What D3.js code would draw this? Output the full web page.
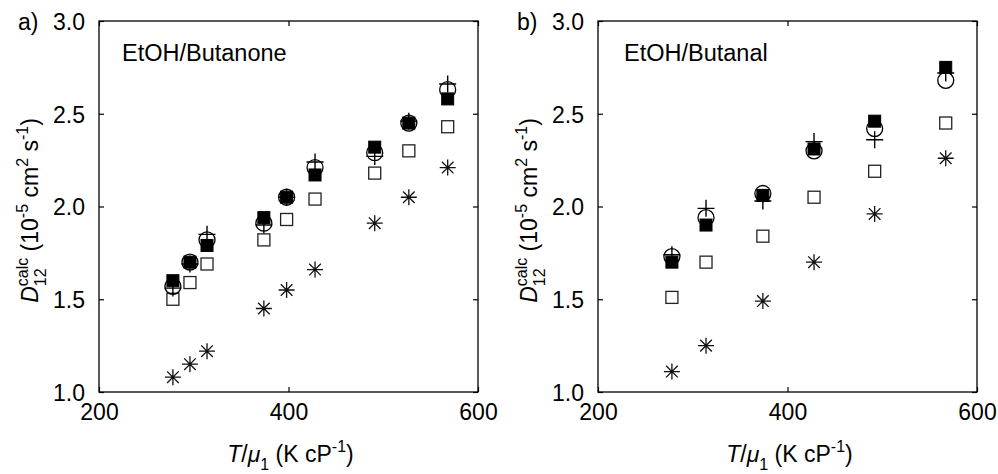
<!DOCTYPE html>
<html>
<head>
<meta charset="utf-8">
<script src="https://cdn.jsdelivr.net/npm/d3@7/dist/d3.min.js"></script>
<style>
  html, body { margin: 0; padding: 0; background: #fff; }
  svg { display: block; }
  text { font-family: "Liberation Sans", Arial, Helvetica, sans-serif; fill: #000; }
</style>
</head>
<body>
<svg id="chart" width="998" height="474"></svg>
<script>
// ---------- data ----------
const xTicks = [200, 400, 600];
const yTicks = [1.0, 1.5, 2.0, 2.5, 3.0];

// Panel a) EtOH/Butanone
const xA      = [278, 296, 314, 374, 398, 428, 491, 527, 568];
const circA   = [1.57, 1.70, 1.82, 1.91, 2.05, 2.21, 2.29, 2.45, 2.63];
const filledA = [1.60, 1.70, 1.79, 1.94, 2.05, 2.17, 2.32, 2.45, 2.58];
const plusA   = [1.56, 1.69, 1.85, 1.90, 2.05, 2.24, 2.27, 2.46, 2.66];
const openA   = [1.50, 1.59, 1.69, 1.82, 1.93, 2.04, 2.18, 2.30, 2.43];
const starA   = [1.08, 1.15, 1.22, 1.45, 1.55, 1.66, 1.91, 2.05, 2.21];

// Panel b) EtOH/Butanal
const xB      = [278, 314, 374, 428, 492, 567];
const circB   = [1.73, 1.94, 2.07, 2.30, 2.42, 2.68];
const filledB = [1.70, 1.90, 2.06, 2.31, 2.46, 2.75];
const plusB   = [1.74, 1.99, 2.03, 2.35, 2.36, 2.72];
const openB   = [1.51, 1.70, 1.84, 2.05, 2.19, 2.45];
const starB   = [1.11, 1.25, 1.49, 1.70, 1.96, 2.26];

const panels = [
  { tag: "a)", title: "EtOH/Butanone", left: 99,  x: xA, circ: circA, filled: filledA, plus: plusA, open: openA, star: starA, titleDx: 23 },
  { tag: "b)", title: "EtOH/Butanal",  left: 598, x: xB, circ: circB, filled: filledB, plus: plusB, open: openB, star: starB, titleDx: 26 }
];

// ---------- layout ----------
const svg = d3.select("#chart");
const plotTop = 21, plotBottom = 392, plotW = 379;
const FS = 23, FSs = 16;

panels.forEach(p => {
  const g = svg.append("g");
  const xs = d3.scaleLinear().domain([200, 600]).range([p.left, p.left + plotW]);
  const ys = d3.scaleLinear().domain([1, 3]).range([plotBottom, plotTop]);

  // axes with inward ticks
  const axB = g.append("g").attr("transform", `translate(0,${plotBottom})`)
    .call(d3.axisBottom(xs).tickValues(xTicks).tickSizeInner(-5).tickSizeOuter(0).tickPadding(12).tickFormat(d3.format("d")));
  const axT = g.append("g").attr("transform", `translate(0,${plotTop})`)
    .call(d3.axisTop(xs).tickValues(xTicks).tickSizeInner(-5).tickSizeOuter(0).tickFormat(""));
  const axL = g.append("g").attr("transform", `translate(${p.left},0)`)
    .call(d3.axisLeft(ys).tickValues(yTicks).tickSizeInner(-5).tickSizeOuter(0).tickPadding(14).tickFormat(d3.format(".1f")));
  const axR = g.append("g").attr("transform", `translate(${p.left + plotW},0)`)
    .call(d3.axisRight(ys).tickValues(yTicks).tickSizeInner(-5).tickSizeOuter(0).tickFormat(""));
  [axB, axT, axL, axR].forEach(a => {
    a.select(".domain").remove();
    a.selectAll("line").attr("stroke", "#000").attr("stroke-width", 1.2);
    a.selectAll("text").style("font-size", FS + "px").style("font-family", "Liberation Sans, Arial, sans-serif").attr("fill", "#000");
  });
  axB.selectAll("text").attr("dy", "0.71em");
  axL.selectAll("text").attr("dy", "0.36em");

  // frame
  g.append("rect").attr("x", p.left).attr("y", plotTop).attr("width", plotW).attr("height", plotBottom - plotTop)
    .attr("fill", "none").attr("stroke", "#000").attr("stroke-width", 1.3);

  // tag and title
  g.append("text").attr("x", p.left - 81).attr("y", 30).style("font-size", FS + "px").text(p.tag);
  g.append("text").attr("x", p.left + p.titleDx).attr("y", 61).style("font-size", "23.5px").text(p.title);

  // markers
  const idx = d3.range(p.x.length);
  const sq = 12, half = sq / 2;
  // open squares
  g.append("g").selectAll("rect").data(idx).join("rect")
    .attr("x", i => xs(p.x[i]) - half).attr("y", i => ys(p.open[i]) - half)
    .attr("width", sq).attr("height", sq)
    .attr("fill", "none").attr("stroke", "#222").attr("stroke-width", 1.3);
  // stars
  const sr = 8, sd = 5.8;
  g.append("g").selectAll("path").data(idx).join("path")
    .attr("transform", i => `translate(${xs(p.x[i])},${ys(p.star[i])})`)
    .attr("d", `M${-sr},0H${sr}M0,${-sr}V${sr}M${-sd},${-sd}L${sd},${sd}M${-sd},${sd}L${sd},${-sd}`)
    .attr("fill", "none").attr("stroke", "#111").attr("stroke-width", 1.3);
  // circles
  g.append("g").selectAll("circle").data(idx).join("circle")
    .attr("cx", i => xs(p.x[i])).attr("cy", i => ys(p.circ[i])).attr("r", 8)
    .attr("fill", "none").attr("stroke", "#000").attr("stroke-width", 1.3);
  // plus
  const pr = 8.5;
  g.append("g").selectAll("path").data(idx).join("path")
    .attr("transform", i => `translate(${xs(p.x[i])},${ys(p.plus[i])})`)
    .attr("d", `M${-pr},0H${pr}M0,${-pr}V${pr}`)
    .attr("fill", "none").attr("stroke", "#000").attr("stroke-width", 1.4);
  // filled squares
  g.append("g").selectAll("rect").data(idx).join("rect")
    .attr("x", i => xs(p.x[i]) - half).attr("y", i => ys(p.filled[i]) - half)
    .attr("width", sq).attr("height", sq)
    .attr("fill", "#000").attr("stroke", "#000").attr("stroke-width", 1);

  // y-axis label (rotated)
  const yl = g.append("text")
    .attr("transform", `translate(${p.left - 61},${(plotTop + plotBottom) / 2 + 4}) rotate(-90)`)
    .attr("text-anchor", "middle").style("font-size", FS + "px");
  yl.append("tspan").style("font-style", "italic").text("D");
  const tCalc = yl.append("tspan").style("font-size", FSs + "px").attr("dy", -10).text("calc");
  const wCalc = tCalc.node().getComputedTextLength();
  const t12 = yl.append("tspan").style("font-size", FSs + "px").attr("dx", -wCalc).attr("dy", 18).text("12");
  const w12 = t12.node().getComputedTextLength();
  yl.append("tspan").attr("dx", wCalc - w12).attr("dy", -8).text(" (10");
  yl.append("tspan").style("font-size", FSs + "px").attr("dy", -10).text("-5");
  yl.append("tspan").attr("dy", 10).text(" cm");
  yl.append("tspan").style("font-size", FSs + "px").attr("dy", -10).text("2");
  yl.append("tspan").attr("dy", 10).text(" s");
  yl.append("tspan").style("font-size", FSs + "px").attr("dy", -10).text("-1");
  yl.append("tspan").attr("dy", 10).text(")");

  // x-axis label
  const xl = g.append("text")
    .attr("x", p.left + plotW / 2 + 2).attr("y", 462)
    .attr("text-anchor", "middle").style("font-size", FS + "px");
  xl.append("tspan").style("font-style", "italic").text("T");
  xl.append("tspan").text("/");
  xl.append("tspan").style("font-style", "italic").text("μ");
  xl.append("tspan").style("font-size", FSs + "px").attr("dy", 8).text("1");
  xl.append("tspan").attr("dy", -8).text(" (K cP");
  xl.append("tspan").style("font-size", FSs + "px").attr("dy", -10).text("-1");
  xl.append("tspan").attr("dy", 10).text(")");
});
</script>
</body>
</html>
